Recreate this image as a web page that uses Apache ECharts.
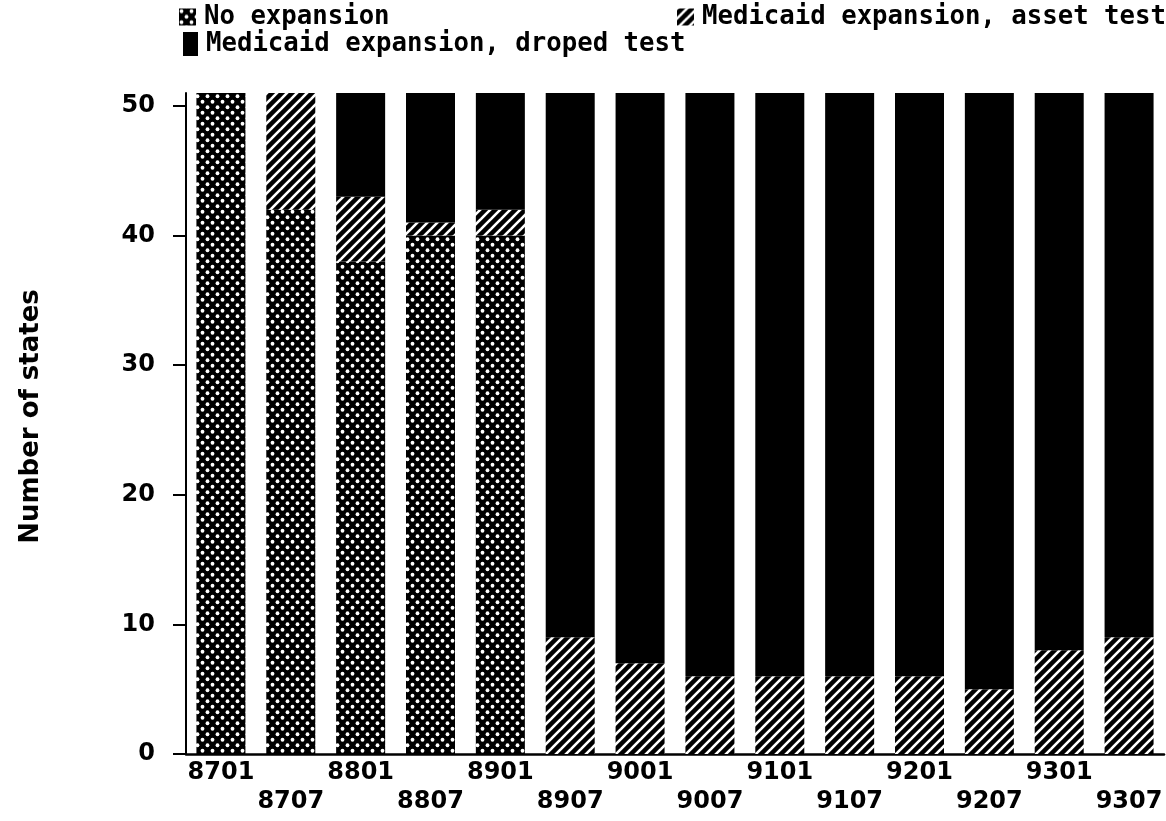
<!DOCTYPE html>
<html><head><meta charset="utf-8">
<script src="https://cdn.jsdelivr.net/npm/echarts@6/dist/echarts.min.js"></script>
<style>html,body{margin:0;padding:0;background:#fff}#c{width:1166px;height:821px}</style>
</head><body><div id="c"></div>
<script>
const categories = ['8701','8707','8801','8807','8901','8907','9001','9007','9101','9107','9201','9207','9301','9307'];
const noExpansion = [51, 42, 38, 40, 40, 0, 0, 0, 0, 0, 0, 0, 0, 0];
const assetTest = [0, 9, 5, 1, 2, 9, 7, 6, 6, 6, 6, 5, 8, 9];
const droppedTest = [0, 0, 8, 10, 9, 42, 44, 45, 45, 45, 45, 46, 43, 42];
const yTicks = [0, 10, 20, 30, 40, 50];
const seriesNames = ['No expansion', 'Medicaid expansion, asset test', 'Medicaid expansion, droped test'];

function dotPattern() {
  const c = document.createElement('canvas'); c.width = 10; c.height = 11;
  const g = c.getContext('2d');
  g.fillStyle = '#000'; g.fillRect(0, 0, 10, 11);
  g.fillStyle = '#fff';
  [[2.5, 2.75], [7.5, 8.25]].forEach(function (p) { g.beginPath(); g.arc(p[0], p[1], 1.9, 0, Math.PI * 2); g.fill(); });
  return { image: c, repeat: 'repeat' };
}
function hatchPattern() {
  const c = document.createElement('canvas'); c.width = 10; c.height = 10;
  const g = c.getContext('2d');
  g.fillStyle = '#000'; g.fillRect(0, 0, 10, 10);
  g.strokeStyle = '#fff'; g.lineWidth = 2.6;
  [[-1, 11, 11, -1], [-1, 1, 1, -1], [9, 11, 11, 9]].forEach(function (l) { g.beginPath(); g.moveTo(l[0], l[1]); g.lineTo(l[2], l[3]); g.stroke(); });
  return { image: c, repeat: 'repeat' };
}

const chart = echarts.init(document.getElementById('c'), null, { renderer: 'canvas' });
const legendText = { fontFamily: 'DejaVu Sans Mono', fontWeight: 'bold', fontSize: 25.7, color: '#000', lineHeight: 25, padding: [0, 0, 0, 3] };
chart.setOption({
  animation: false,
  backgroundColor: '#fff',
  legend: [
    { data: [seriesNames[0]], left: 179, top: 4, itemWidth: 17, itemHeight: 17, icon: 'rect', padding: 0, textStyle: legendText },
    { data: [seriesNames[1]], left: 677, top: 4, itemWidth: 17, itemHeight: 17, icon: 'rect', padding: 0, textStyle: legendText },
    { data: [seriesNames[2]], left: 183, top: 31, itemWidth: 15, itemHeight: 24, icon: 'rect', padding: 0, textStyle: legendText }
  ],
  grid: { left: 186, right: 2, top: 93, bottom: 67, containLabel: false },
  xAxis: {
    type: 'category', data: categories,
    axisLine: { lineStyle: { color: '#000', width: 2.5 } },
    axisTick: { show: false },
    axisLabel: {
      interval: 0, margin: 4, color: '#000',
      fontFamily: 'DejaVu Sans', fontWeight: 'bold', fontSize: 24, lineHeight: 29,
      formatter: function (v, i) { return i % 2 === 1 ? '\n' + v : v; }
    }
  },
  yAxis: {
    type: 'value', min: 0, max: 51, interval: 10,
    name: 'Number of states', nameLocation: 'middle', nameGap: 142, nameRotate: 90,
    nameTextStyle: { fontFamily: 'DejaVu Sans', fontWeight: 'bold', fontSize: 26, color: '#000', padding: [0, 0, 0, 14] },
    axisLine: { show: true, lineStyle: { color: '#000', width: 2 } },
    axisTick: { show: true, length: 13, lineStyle: { color: '#000', width: 2 }, customValues: yTicks },
    axisLabel: { margin: 31, color: '#000', fontFamily: 'DejaVu Sans', fontWeight: 'bold', fontSize: 24, customValues: yTicks,
      formatter: function (v) { return v % 10 === 0 ? String(v) : ''; } },
    splitLine: { show: false }
  },
  series: [
    { name: seriesNames[0], type: 'bar', stack: 'all', barWidth: 49, data: noExpansion, itemStyle: { color: dotPattern() } },
    { name: seriesNames[1], type: 'bar', stack: 'all', barWidth: 49, data: assetTest, itemStyle: { color: hatchPattern() } },
    { name: seriesNames[2], type: 'bar', stack: 'all', barWidth: 49, data: droppedTest, itemStyle: { color: '#000' } }
  ]
});
</script>
</body></html>
